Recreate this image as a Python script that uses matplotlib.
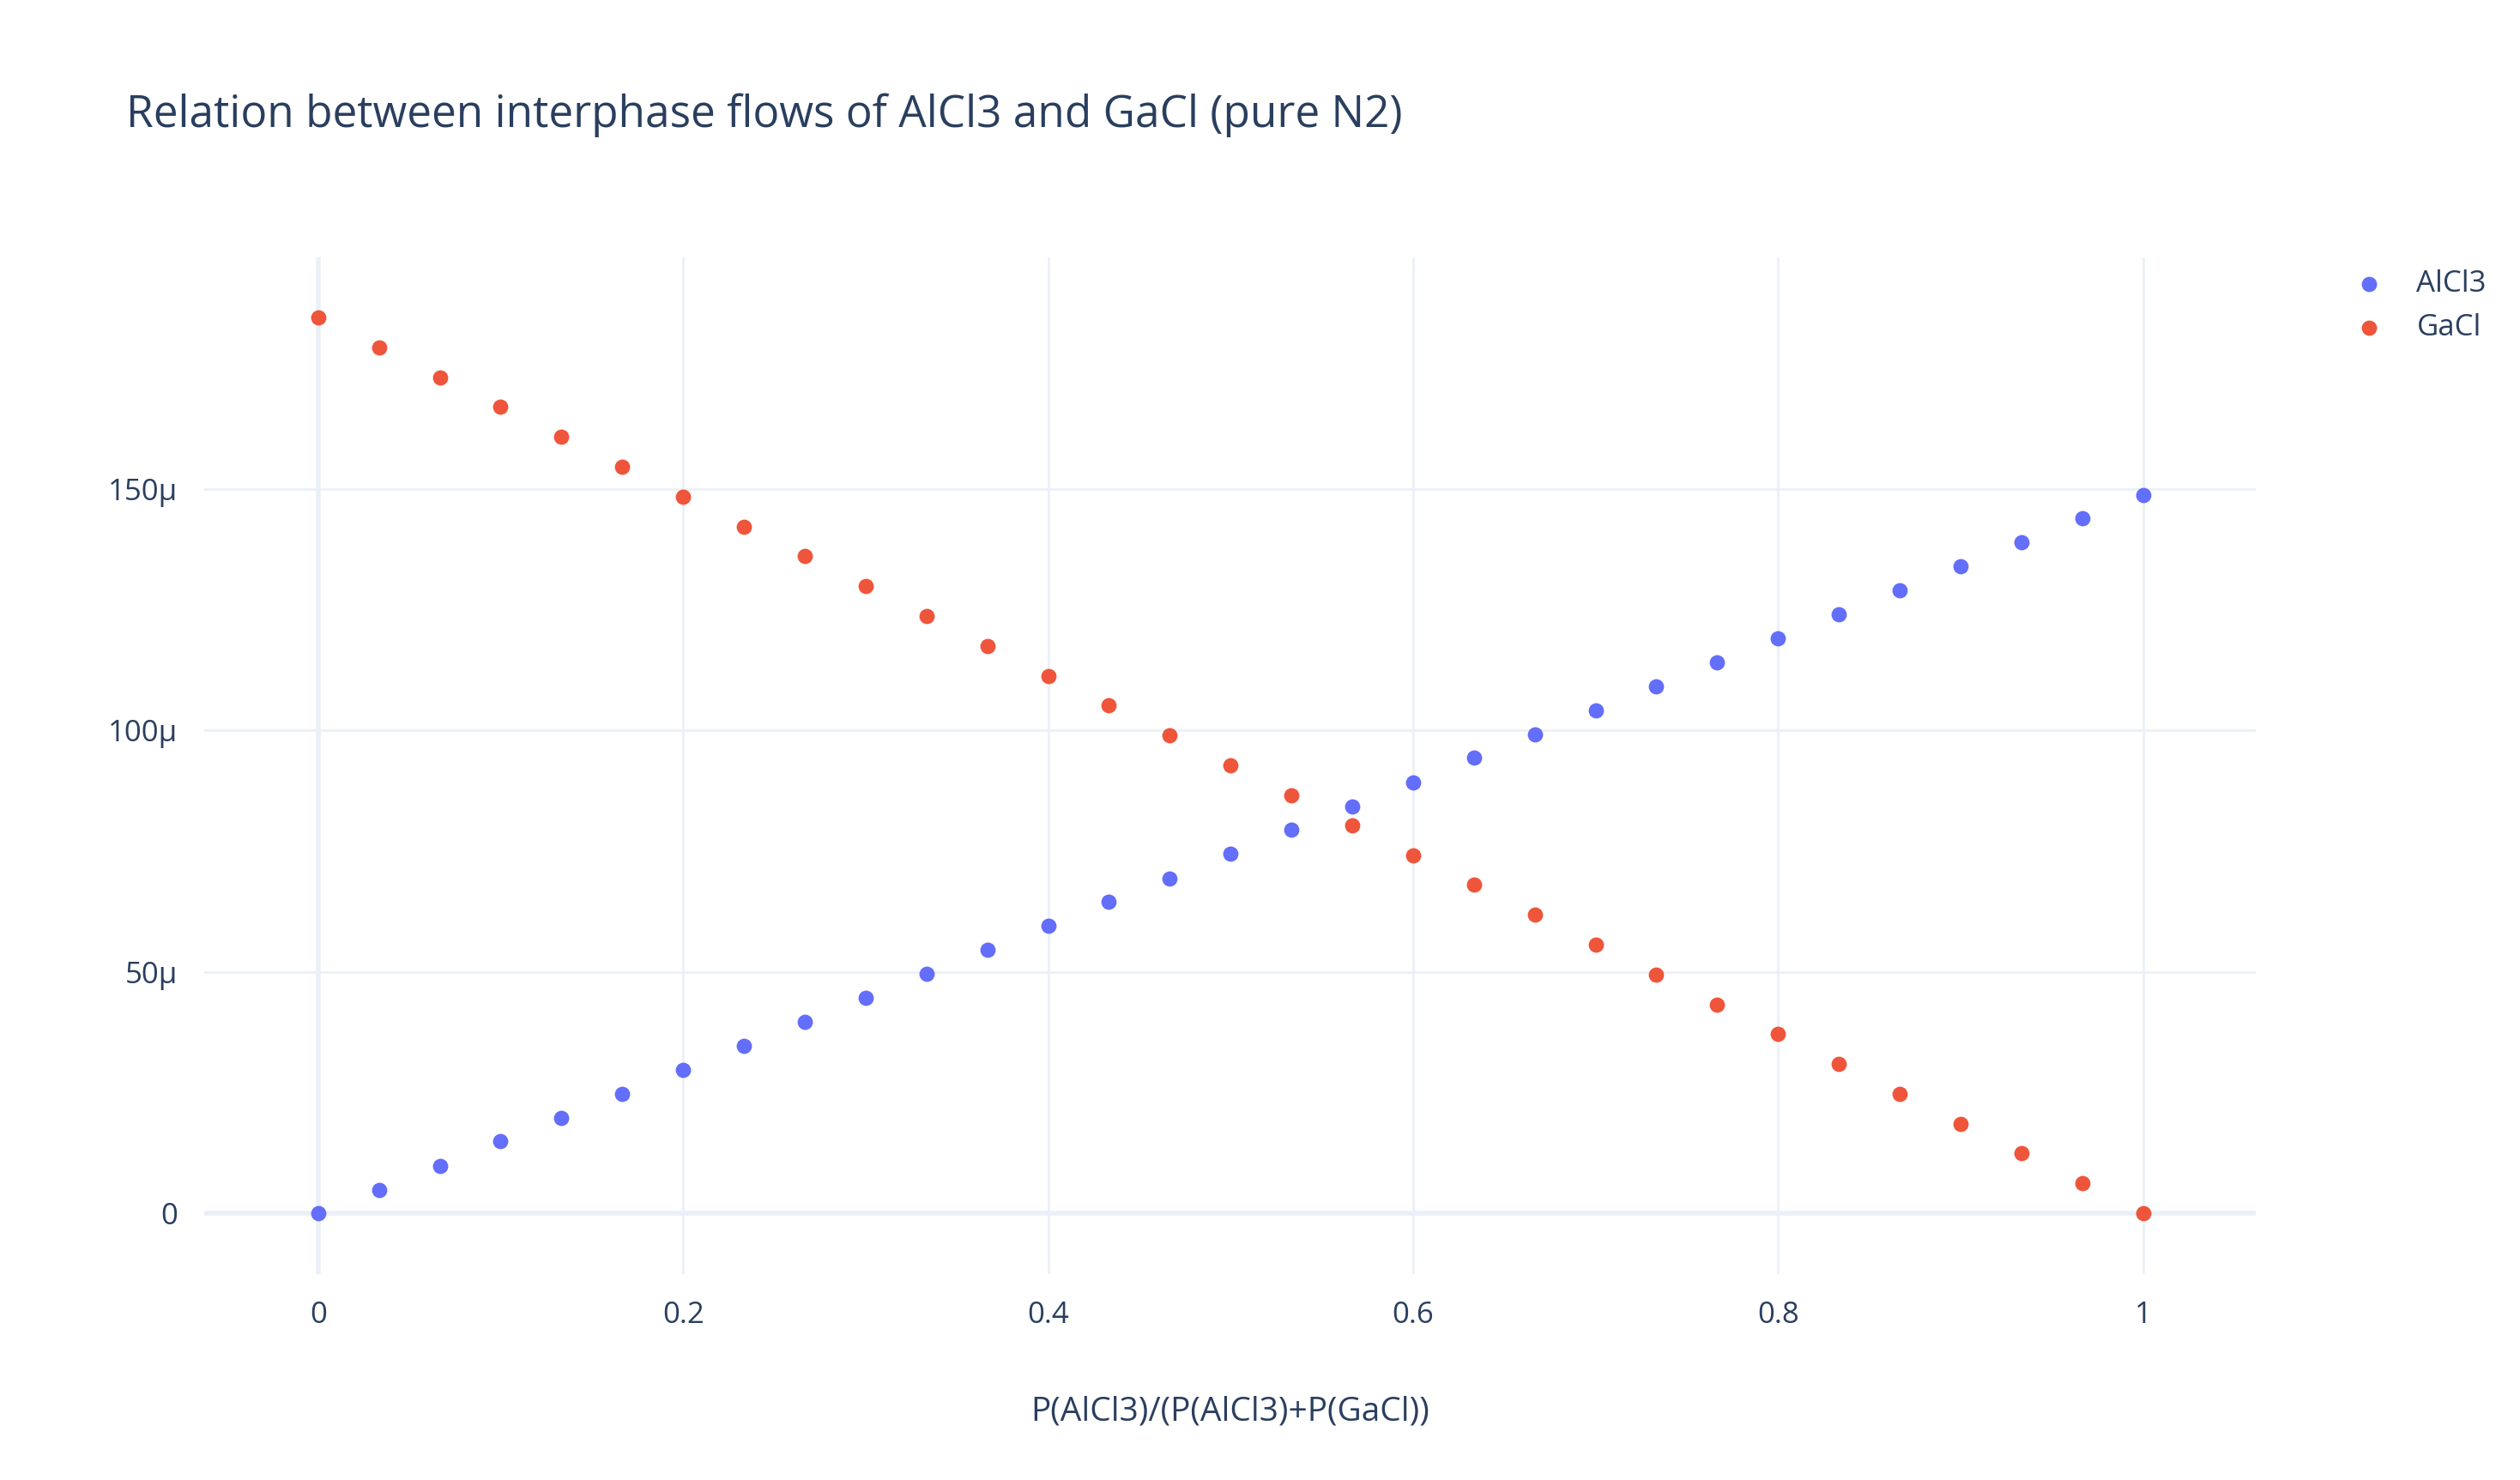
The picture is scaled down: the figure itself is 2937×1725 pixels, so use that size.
import matplotlib
matplotlib.use('Agg')
import matplotlib.pyplot as plt
from matplotlib.ticker import FuncFormatter

plt.rcParams['font.family'] = ['Open Sans', 'DejaVu Sans']

# fraction P(AlCl3)/(P(AlCl3)+P(GaCl))
x_frac = [0.0, 0.0333, 0.0667, 0.1, 0.1333, 0.1667, 0.2, 0.2333, 0.2667, 0.3,
          0.3333, 0.3667, 0.4, 0.4333, 0.4667, 0.5, 0.5333, 0.5667, 0.6, 0.6333,
          0.6667, 0.7, 0.7333, 0.7667, 0.8, 0.8333, 0.8667, 0.9, 0.9333, 0.9667, 1.0]
# flows in micro units
alcl3 = [0, 4.9, 9.9, 14.9, 19.8, 24.8, 29.8, 34.7, 39.7, 44.6, 49.6, 54.6, 59.5,
         64.5, 69.4, 74.4, 79.4, 84.3, 89.3, 94.3, 99.2, 104.2, 109.1, 114.1,
         119.1, 124.0, 129.0, 134.0, 138.9, 143.9, 148.8]
gacl = [185.5, 179.3, 173.1, 167.0, 160.8, 154.6, 148.4, 142.2, 136.1, 129.9,
        123.7, 117.5, 111.3, 105.2, 99.0, 92.8, 86.6, 80.4, 74.2, 68.0, 61.8,
        55.7, 49.5, 43.3, 37.1, 30.9, 24.7, 18.6, 12.4, 6.2, 0]

txt = '#2a3f5f'
fig = plt.figure(figsize=(29.37, 17.25), dpi=100)
ax = fig.add_axes([0.081, 0.139, 0.814, 0.687])

ax.scatter(x_frac, alcl3, s=165, color='#636efa', label='AlCl3', zorder=3, linewidths=0)
ax.scatter(x_frac, gacl, s=165, color='#ef553b', label='GaCl', zorder=3, linewidths=0)

ax.set_xlim(-0.0625, 1.0616)
ax.set_ylim(-12.6, 197.9)
ax.set_xticks([0, 0.2, 0.4, 0.6, 0.8, 1])
ax.set_yticks([0, 50, 100, 150])
ax.xaxis.set_major_formatter(FuncFormatter(lambda v, p: '0' if v == 0 else ('1' if v == 1 else f'{v:.1f}')))
ax.yaxis.set_major_formatter(FuncFormatter(lambda v, p: '0' if v == 0 else f'{v:.0f}μ'))
ax.grid(True, color='#ebf0f8', linewidth=2)
ax.axhline(0, color='#ebf0f8', linewidth=4, zorder=1)
ax.axvline(0, color='#ebf0f8', linewidth=4, zorder=1)
ax.set_axisbelow(True)
for s in ax.spines.values():
    s.set_visible(False)
ax.tick_params(length=0, labelsize=25, labelcolor=txt, pad=22)

ax.set_xlabel('P(AlCl3)/(P(AlCl3)+P(GaCl))', fontsize=28, color=txt, labelpad=55)
fig.text(0.05, 0.922, 'Relation between interphase flows of AlCl3 and GaCl (pure N2)',
         fontsize=37, color=txt, va='center')

leg = ax.legend(loc='upper left', bbox_to_anchor=(1.035, 1.0), frameon=False,
                fontsize=25, labelcolor=txt, handletextpad=0.6, borderaxespad=0,
                labelspacing=0.5)

fig.savefig('out.png', dpi=100)
